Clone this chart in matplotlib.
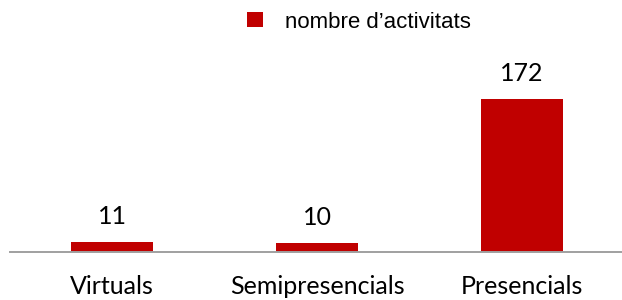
import matplotlib.pyplot as plt

# --- DATA ---
categories = ['Virtuals', 'Semipresencials', 'Presencials']
values = [11, 10, 172]
series_name = 'nombre d\u2019activitats'

RED = '#C00000'
AXIS_GRAY = '#A0A0A0'

W, H, DPI = 622, 300, 100
fig = plt.figure(figsize=(W / DPI, H / DPI), dpi=DPI)
fig.patch.set_facecolor('white')

# axes placed in pixel terms: baseline at y=252, slots 205 px wide
ax_left = 9.5 / W
ax_bottom = (H - 252) / H
ax_w = 615 / W
ax_h = (200 * 0.888) / H
ax = fig.add_axes([ax_left, ax_bottom, ax_w, ax_h])

x = list(range(len(categories)))
bars = ax.bar(x, values, width=0.4, color=RED, label=series_name, zorder=2)

ax.set_xlim(-0.5, len(categories) - 0.5)
ax.set_ylim(0, 200)

for rect, v in zip(bars, values):
    ax.annotate(str(v), (rect.get_x() + rect.get_width() / 2, rect.get_height()),
                xytext=(0, 10), textcoords='offset points', ha='center', va='bottom',
                fontsize=18, family='Lato', color='black')

ax.set_xticks(x)
ax.set_xticklabels(categories, fontsize=18, family='Lato')
ax.tick_params(axis='x', length=0, pad=16.5)
ax.set_yticks([])

for side in ['top', 'left', 'right']:
    ax.spines[side].set_visible(False)
ax.spines['bottom'].set_color(AXIS_GRAY)
ax.spines['bottom'].set_linewidth(1.4)
ax.spines['bottom'].set_zorder(3)

leg = fig.legend(handles=[bars], labels=[series_name], loc='center',
                 bbox_to_anchor=(359 / W, 1 - 22 / H), frameon=False,
                 prop={'family': 'Liberation Sans', 'size': 16},
                 handlelength=0.68, handleheight=0.68, handletextpad=1.0)

fig.savefig('out.png', dpi=DPI)
